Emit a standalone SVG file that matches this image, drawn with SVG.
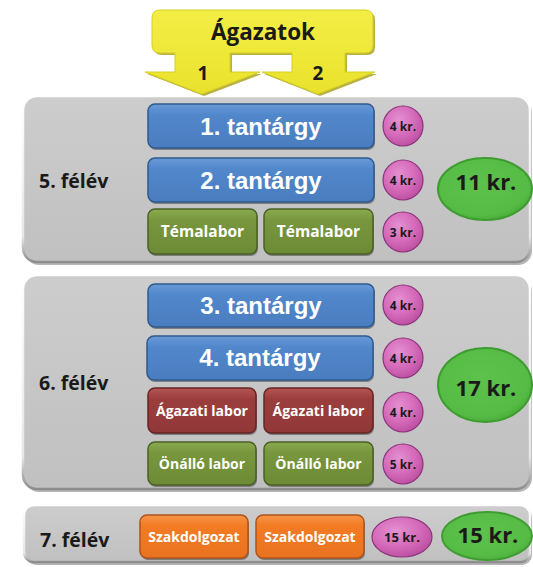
<svg xmlns="http://www.w3.org/2000/svg" width="533" height="567" viewBox="0 0 533 567">
<defs>
<linearGradient id="gPanel" x1="0" y1="0" x2="0" y2="1"><stop offset="0" stop-color="#cdcdcd"/><stop offset="1" stop-color="#c0c0c0"/></linearGradient>
<linearGradient id="gPanelEdge" x1="0" y1="0" x2="0" y2="1"><stop offset="0" stop-color="#ffffff"/><stop offset="0.85" stop-color="#e6e6e6"/><stop offset="1" stop-color="#8c8c8c"/></linearGradient>
<linearGradient id="gBlue" x1="0" y1="0" x2="0" y2="1"><stop offset="0" stop-color="#6a9ad8"/><stop offset="0.25" stop-color="#5187cb"/><stop offset="1" stop-color="#4a7dc0"/></linearGradient>
<linearGradient id="gGreen" x1="0" y1="0" x2="0" y2="1"><stop offset="0" stop-color="#8aaa50"/><stop offset="0.25" stop-color="#77963d"/><stop offset="1" stop-color="#6d8b36"/></linearGradient>
<linearGradient id="gRed" x1="0" y1="0" x2="0" y2="1"><stop offset="0" stop-color="#b55656"/><stop offset="0.25" stop-color="#9b3d3d"/><stop offset="1" stop-color="#913838"/></linearGradient>
<linearGradient id="gOrange" x1="0" y1="0" x2="0" y2="1"><stop offset="0" stop-color="#f7954a"/><stop offset="0.25" stop-color="#f27b23"/><stop offset="1" stop-color="#ea7320"/></linearGradient>
<radialGradient id="gPink" cx="0.4" cy="0.35" r="0.7"><stop offset="0" stop-color="#e590d2"/><stop offset="0.6" stop-color="#d468b8"/><stop offset="1" stop-color="#b94c9e"/></radialGradient>
<radialGradient id="gLime" cx="0.45" cy="0.4" r="0.65"><stop offset="0" stop-color="#5cc24b"/><stop offset="0.8" stop-color="#55bb44"/><stop offset="1" stop-color="#46a637"/></radialGradient>
<linearGradient id="gYellow" x1="0" y1="0" x2="0" y2="1"><stop offset="0" stop-color="#f3ee45"/><stop offset="1" stop-color="#e9e22c"/></linearGradient>
</defs>
<style>
.panel{fill:url(#gPanel);stroke:url(#gPanelEdge);stroke-width:2.5}
.pshadow{fill:#7a7a7a;opacity:.55}
.bshadow{fill:#2b2b2b;opacity:.45}
.blue{fill:url(#gBlue);stroke:#2f5a8e;stroke-width:1.5}
.green{fill:url(#gGreen);stroke:#4a6024;stroke-width:1.5}
.red{fill:url(#gRed);stroke:#662424;stroke-width:1.5}
.orange{fill:url(#gOrange);stroke:#b0531a;stroke-width:1.5}
.pink{fill:url(#gPink);stroke:#8a3479;stroke-width:1.2}
.lime{fill:url(#gLime);stroke:#3f9c31;stroke-width:2}
.big{font-family:"Liberation Sans",Arial,sans-serif;font-weight:bold;font-size:24px;fill:#ffffff;text-anchor:middle}
.lab{font-family:"Open Sans","Noto Sans",sans-serif;font-weight:bold;font-size:14px;fill:#ffffff;text-anchor:middle}
.sem{font-family:"Open Sans","Noto Sans",sans-serif;font-weight:bold;font-size:19.5px;fill:#1a1a1a}
.kr{font-family:"Open Sans","Noto Sans",sans-serif;font-weight:bold;font-size:12px;fill:#1a1a1a;text-anchor:middle}
.tot{font-family:"Open Sans","Noto Sans",sans-serif;font-weight:bold;font-size:22px;fill:#1a1a1a;text-anchor:middle}
.head{font-family:"Open Sans","Noto Sans",sans-serif;font-weight:bold;font-size:22.5px;fill:#1a1a1a;text-anchor:middle}
.num{font-family:"Open Sans","Noto Sans",sans-serif;font-weight:bold;font-size:19px;fill:#1a1a1a;text-anchor:middle}
</style>

<!-- semester panels -->
<g id="panel5">
<rect class="pshadow" x="25" y="99" width="507" height="166" rx="14"/>
<rect class="panel" x="23" y="96" width="507" height="166" rx="14"/>
<text class="sem" x="39" y="188">5. félév</text>
</g>
<g id="panel6">
<rect class="pshadow" x="25" y="278" width="507" height="214" rx="14"/>
<rect class="panel" x="23" y="275" width="507" height="214" rx="14"/>
<text class="sem" x="39" y="390">6. félév</text>
</g>
<g id="panel7">
<rect class="pshadow" x="26" y="507" width="506" height="58" rx="10"/>
<rect class="panel" x="24" y="505" width="506" height="57" rx="10"/>
<text class="sem" x="40" y="547">7. félév</text>
</g>

<!-- header arrow -->
<g id="agazatok">
<path d="M162,12 H367 Q375,12 375,20 V47 Q375,55 367,55 H347 V74 H377 L320,96 L264,74 H294 V55 H232 V74 H262 L204,96 L147,74 H177 V55 H162 Q154,55 154,47 V20 Q154,12 162,12 Z" fill="#a59d16" opacity="0.8"/>
<path d="M160,10 H365 Q373,10 373,18 V45 Q373,53 365,53 H345 V72 H375 L318,94 L262,72 H292 V53 H230 V72 H260 L202,94 L145,72 H175 V53 H160 Q152,53 152,45 V18 Q152,10 160,10 Z" fill="url(#gYellow)" stroke="#d6cf22" stroke-width="1"/>
<text class="head" x="263" y="40">Ágazatok</text>
<text class="num" x="203" y="80">1</text>
<text class="num" x="318" y="80">2</text>
</g>

<!-- semester 5 -->
<g id="t1">
<rect class="bshadow" x="149" y="106" width="226" height="44" rx="7"/>
<rect class="blue" x="148" y="104" width="226" height="44" rx="7"/>
<text class="big" x="261" y="134.5">1. tantárgy</text>
</g>
<g id="t2">
<rect class="bshadow" x="149" y="160" width="226" height="44" rx="7"/>
<rect class="blue" x="148" y="158" width="226" height="44" rx="7"/>
<text class="big" x="261" y="188.5">2. tantárgy</text>
</g>
<g id="tema1">
<rect class="bshadow" x="149" y="211" width="109" height="45" rx="7"/>
<rect class="green" x="148" y="209" width="109" height="45" rx="7"/>
<text class="lab" x="202.5" y="236.5" style="font-size:15.5px">Témalabor</text>
</g>
<g id="tema2">
<rect class="bshadow" x="265" y="211" width="109" height="45" rx="7"/>
<rect class="green" x="264" y="209" width="109" height="45" rx="7"/>
<text class="lab" x="318.5" y="236.5" style="font-size:15.5px">Témalabor</text>
</g>
<g id="kr5a"><circle class="pink" cx="403" cy="126" r="20"/><text class="kr" x="403" y="131">4 kr.</text></g>
<g id="kr5b"><circle class="pink" cx="403" cy="180" r="20"/><text class="kr" x="403" y="185">4 kr.</text></g>
<g id="kr5c"><circle class="pink" cx="403" cy="232" r="20"/><text class="kr" x="403" y="237">3 kr.</text></g>
<g id="sum5"><ellipse class="lime" cx="485" cy="189" rx="47" ry="31"/><text class="tot" x="486" y="190">11 kr.</text></g>

<!-- semester 6 -->
<g id="t3">
<rect class="bshadow" x="149" y="286" width="226" height="43" rx="7"/>
<rect class="blue" x="148" y="284" width="226" height="43" rx="7"/>
<text class="big" x="261" y="313.5">3. tantárgy</text>
</g>
<g id="t4">
<rect class="bshadow" x="148" y="338" width="226" height="44" rx="7"/>
<rect class="blue" x="147" y="336" width="226" height="44" rx="7"/>
<text class="big" x="260" y="366">4. tantárgy</text>
</g>
<g id="agl1">
<rect class="bshadow" x="149" y="390" width="108" height="45" rx="7"/>
<rect class="red" x="148" y="388" width="108" height="45" rx="7"/>
<text class="lab" x="202" y="415.5">Ágazati labor</text>
</g>
<g id="agl2">
<rect class="bshadow" x="265" y="390" width="109" height="45" rx="7"/>
<rect class="red" x="264" y="388" width="109" height="45" rx="7"/>
<text class="lab" x="318.5" y="415.5">Ágazati labor</text>
</g>
<g id="onl1">
<rect class="bshadow" x="149" y="444" width="108" height="43" rx="7"/>
<rect class="green" x="148" y="442" width="108" height="43" rx="7"/>
<text class="lab" x="202" y="468.5">Önálló labor</text>
</g>
<g id="onl2">
<rect class="bshadow" x="265" y="444" width="109" height="43" rx="7"/>
<rect class="green" x="264" y="442" width="109" height="43" rx="7"/>
<text class="lab" x="318.5" y="468.5">Önálló labor</text>
</g>
<g id="kr6a"><circle class="pink" cx="403" cy="305" r="20"/><text class="kr" x="403" y="310">4 kr.</text></g>
<g id="kr6b"><circle class="pink" cx="403" cy="358" r="20"/><text class="kr" x="403" y="363">4 kr.</text></g>
<g id="kr6c"><circle class="pink" cx="403" cy="412" r="20"/><text class="kr" x="403" y="417">4 kr.</text></g>
<g id="kr6d"><circle class="pink" cx="403" cy="464" r="20"/><text class="kr" x="403" y="469">5 kr.</text></g>
<g id="sum6"><ellipse class="lime" cx="485" cy="385" rx="47" ry="37"/><text class="tot" x="486" y="396">17 kr.</text></g>

<!-- semester 7 -->
<g id="szd1">
<rect class="bshadow" x="141" y="517" width="108" height="43" rx="7"/>
<rect class="orange" x="140" y="515" width="108" height="43" rx="7"/>
<text class="lab" x="194" y="541.5">Szakdolgozat</text>
</g>
<g id="szd2">
<rect class="bshadow" x="257" y="517" width="108" height="43" rx="7"/>
<rect class="orange" x="256" y="515" width="108" height="43" rx="7"/>
<text class="lab" x="310" y="541.5">Szakdolgozat</text>
</g>
<g id="kr7"><ellipse class="pink" cx="402" cy="537" rx="30" ry="20"/><text class="kr" x="402" y="542" style="font-size:13px">15 kr.</text></g>
<g id="sum7"><ellipse class="lime" cx="487" cy="536" rx="45" ry="24"/><text class="tot" x="488" y="543">15 kr.</text></g>

<g id="connectors"/>
</svg>
